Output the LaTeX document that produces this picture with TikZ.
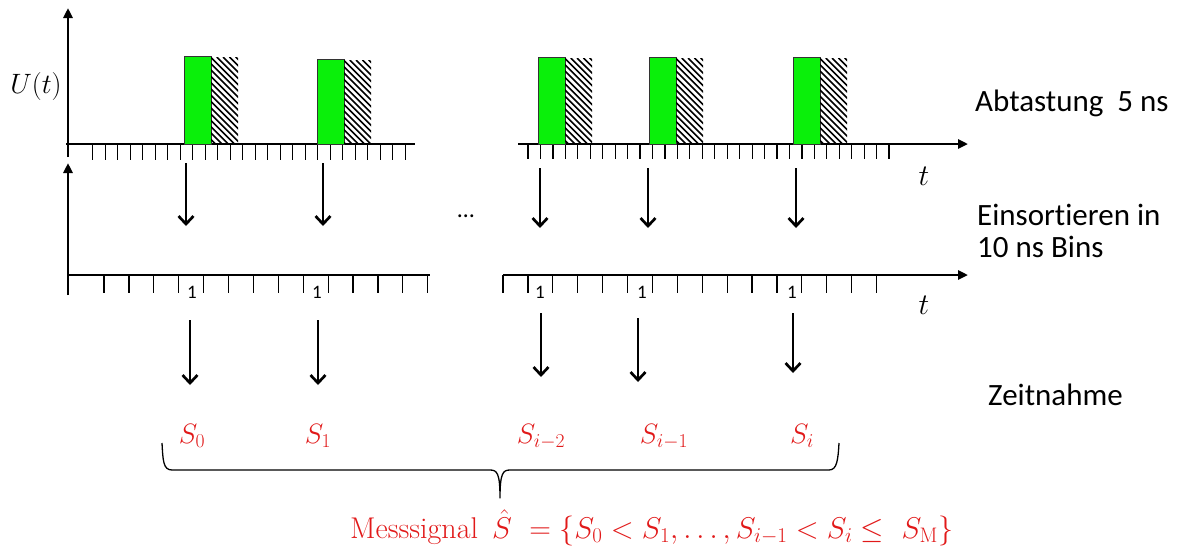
\RequirePackage{fix-cm}
\documentclass[tikz,border=0pt]{standalone}
\usepackage{amsmath}
\usepackage{fontspec}
\newfontfamily\calib[Ligatures=NoCommon]{Carlito}
\usetikzlibrary{arrows.meta}
\definecolor{pulsegreen}{RGB}{10,240,10}
\definecolor{sred}{RGB}{225,25,25}
\newcommand{\fs}[1]{\fontsize{#1}{#1}\selectfont}
\begin{document}
\begin{tikzpicture}[x=1pt,y=-1pt,
  axisline/.style={line width=2.6pt},
  axisarrow/.style={line width=2.6pt,-{Triangle[length=10pt,width=9pt]}},
  tickmark/.style={line width=1.2pt},
  downarrow/.style={line width=2.7pt,-{Straight Barb[length=8pt,width=15pt]}},
  pulse/.style={fill=pulsegreen,draw=black!80,line width=0.8pt},
  hatchline/.style={line width=1.6pt},
  rlabel/.style={anchor=base west,inner sep=0pt,font=\calib\fs{31}},
  onelabel/.style={anchor=base,inner sep=0pt,font=\calib\fs{19}},
  tlabel/.style={anchor=base,inner sep=0pt,font=\fs{30}},
  slabel/.style={anchor=base,inner sep=0pt,text=sred,font=\fs{28}},
]
\useasboundingbox (0,0) rectangle (1177,552);

% ---------- top: sampling ----------
\coordinate (ya0) at (68,157);
\coordinate (ya1) at (68,8);
\draw[axisarrow] (ya0) -- (ya1);
\coordinate (xa0) at (66,144);
\coordinate (xa1) at (415,144);
\draw[axisline] (xa0) -- (xa1);
\coordinate (xb0) at (518,144);
\coordinate (xb1) at (968,144);
\draw[axisarrow] (xb0) -- (xb1);
\foreach \i in {0,...,25} \draw[tickmark] (92.7+12.5*\i,144) -- ++(0,16);
\foreach \i in {0,...,29} \draw[tickmark] (528+12.45*\i,144) -- ++(0,15);

\node[anchor=base,inner sep=0pt,font=\fs{28}] (U) at (36,93) {$U(t)$};

% pulses: left x, top y
\foreach \px/\py in {184/56, 317/59, 538/57, 649/57, 793/57}{
  \draw[pulse] (\px,\py) rectangle (\px+27,144);
  \begin{scope}
    \clip (\px+27,\py+1) rectangle (\px+54,144);
    \foreach \k in {0,...,22} \draw[hatchline] (\px+27-95+6.3*\k,\py+1) -- ++(100,100);
  \end{scope}
}

\node[rlabel] (abt) at (975,111) {Abtastung\ \ 5 ns};
\node[tlabel] (t1) at (924,185) {$t$};

% ---------- middle: bins ----------
\coordinate (yb0) at (68,295);
\coordinate (yb1) at (68,163);
\draw[axisarrow] (yb0) -- (yb1);
\coordinate (xc0) at (68,275);
\coordinate (xc1) at (430,275);
\draw[axisline] (xc0) -- (xc1);
\coordinate (xd0) at (503,275);
\coordinate (xd1) at (968,275);
\draw[axisarrow] (xd0) -- (xd1);
\foreach \i in {0,...,13} \draw[tickmark] (104+24.9*\i,275) -- ++(0,18);
\foreach \i in {0,...,15} \draw[tickmark] (503+24.9*\i,275) -- ++(0,18);

\foreach \x [count=\n] in {192,317,540,642,792}
  \node[onelabel] (one\n) at (\x,298) {1};

\node[anchor=base,inner sep=0pt,font=\calib\fs{24}] (dots) at (466,217) {…};

\node[rlabel] (eins) at (977,225) {Einsortieren in};
\node[rlabel] (bins) at (977,257) {10 ns Bins};
\node[tlabel] (t2) at (924,314) {$t$};

% arrows sampling -> bins
\foreach \x/\ya/\yb [count=\n] in {186/163/226, 323/163/226, 540/168/228, 648/168/228, 796/168/228}{
  \coordinate (pa\n) at (\x,\ya);
  \coordinate (pb\n) at (\x,\yb);
  \draw[downarrow] (pa\n) -- (pb\n);
}

% ---------- bottom: time stamps ----------
\node[slabel] (s0) at (192,443) {$S_0$};
\node[slabel] (s1) at (318,443) {$S_1$};
\node[slabel] (s2) at (541,443) {$S_{i-2}$};
\node[slabel] (s3) at (664,443) {$S_{i-1}$};
\node[slabel] (s4) at (802,443) {$S_i$};

\foreach \x/\ya/\yb [count=\n] in {190/320/385, 318/320/385, 541/313/377, 638/318/382, 793/313/373}{
  \coordinate (qa\n) at (\x,\ya);
  \coordinate (qb\n) at (\x,\yb);
  \draw[downarrow] (qa\n) -- (qb\n);
}

\node[rlabel] (zeit) at (988,405) {Zeitnahme};

% brace
\coordinate (bl) at (162,443);
\coordinate (br) at (839,443);
\coordinate (btip) at (500,498);
\draw[line width=1.3pt,line join=round]
  (bl) .. controls (163,460) and (163,470) .. (172,470) -- (490,470)
  .. controls (497,470) and (500,473) .. (btip)
  .. controls (500,473) and (503,470) .. (510,470) -- (829,470)
  .. controls (837,470) and (838,460) .. (br);

\node[anchor=base west,inner sep=0pt,text=sred,font=\fs{30}] (mess) at (350,538)
  {Messsignal\, $\hat{S}\ = \{S_0 < S_1, \dots, S_{i-1} < S_i \le\ S_{\mathrm{M}}\}$};
\end{tikzpicture}
\end{document}
